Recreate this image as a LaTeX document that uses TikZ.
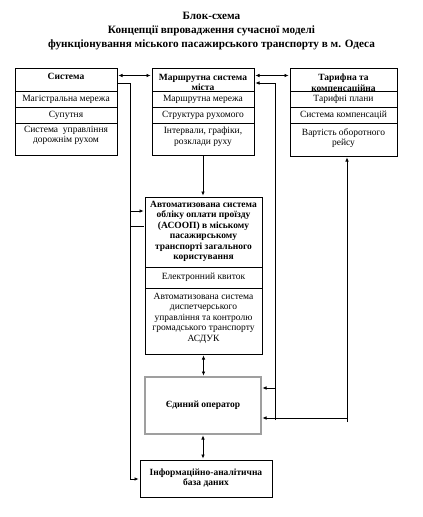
\documentclass[tikz,border=0pt]{standalone}
\usepackage{fontspec}
\setmainfont{Liberation Serif}
\usetikzlibrary{arrows.meta,positioning}

\tikzset{
  cell/.style={draw, outer sep=0pt, inner sep=0pt, line width=0.6pt},
  txt/.style={font=\fontsize{9.5}{10.4}\selectfont, align=center, inner sep=0pt},
  head/.style={txt, font=\bfseries\fontsize{9.5}{10.4}\selectfont},
  link/.style={line width=0.6pt, shorten >=1.5pt, shorten <=0pt},
  >={Latex[length=4pt,width=3.5pt]}
}

\begin{document}
\begin{tikzpicture}[x=1pt,y=-1pt]
    \useasboundingbox (0,0) rectangle (423,517);
    % Заголовок
    \node[align=center, font=\bfseries\fontsize{11.2}{14}\selectfont] (title) at (211.5,31)
        {Блок-схема\\Концепції впровадження сучасної моделі\\функціонування міського пасажирського транспорту в м. Одеса};
    % Система
    \node[cell, minimum width=102pt, minimum height=23pt, anchor=north west] (sysH) at (15,68.5) {};
    \node[cell, minimum width=102pt, minimum height=15.5pt, below=0pt of sysH] (sys1) {};
    \node[cell, minimum width=102pt, minimum height=16pt, below=0pt of sys1] (sys2) {};
    \node[cell, minimum width=102pt, minimum height=32pt, below=0pt of sys2] (sys3) {};
    \node[head, anchor=north] (sysHt) at ([yshift=-5pt]sysH.north) {Система};
    \node[txt] (sys1t) at (sys1) {Магістральна мережа};
    \node[txt] (sys2t) at (sys2) {Супутня};
    \node[txt, anchor=north] (sys3t) at ([yshift=-3pt]sys3.north) {Система\ \ управління\\дорожнім рухом};
    % Маршрутна система міста
    \node[cell, minimum width=102pt, minimum height=23pt, anchor=north west] (routeH) at (152,68.5) {};
    \node[cell, minimum width=102pt, minimum height=15.5pt, below=0pt of routeH] (route1) {};
    \node[cell, minimum width=102pt, minimum height=16pt, below=0pt of route1] (route2) {};
    \node[cell, minimum width=102pt, minimum height=32pt, below=0pt of route2] (route3) {};
    \begin{scope}
        \clip (routeH.north west) rectangle (routeH.south east);
        \node[head, anchor=north] (routeHt) at ([yshift=-5.5pt]routeH.north) {Маршрутна система\\міста};
    \end{scope}
    \node[txt] (route1t) at (route1) {Маршрутна мережа};
    \node[txt] (route2t) at (route2) {Структура рухомого};
    \node[txt, anchor=north] (route3t) at ([yshift=-4pt]route3.north) {Інтервали, графіки,\\розклади руху};
    % Тарифна та компенсаційна
    \node[cell, minimum width=107pt, minimum height=23pt, anchor=north west] (tarH) at (290,68.5) {};
    \node[cell, minimum width=107pt, minimum height=15.5pt, below=0pt of tarH] (tar1) {};
    \node[cell, minimum width=107pt, minimum height=16pt, below=0pt of tar1] (tar2) {};
    \node[cell, minimum width=107pt, minimum height=33pt, below=0pt of tar2] (tar3) {};
    \begin{scope}
        \clip (tarH.north west) rectangle (tarH.south east);
        \node[head, anchor=north] (tarHt) at ([yshift=-5.5pt]tarH.north) {Тарифна та\\компенсаційна};
    \end{scope}
    \node[txt] (tar1t) at (tar1) {Тарифні плани};
    \node[txt] (tar2t) at (tar2) {Система компенсацій};
    \node[txt, anchor=north] (tar3t) at ([yshift=-5pt]tar3.north) {Вартість оборотного\\рейсу};
    % АСООП
    \node[cell, minimum width=117pt, minimum height=70pt, anchor=north west] (asoop) at (145,197) {};
    \node[cell, minimum width=117pt, minimum height=21pt, below=0pt of asoop] (asoop1) {};
    \node[cell, minimum width=117pt, minimum height=66pt, below=0pt of asoop1] (asoop2) {};
    \node[head, anchor=north] (asoopt) at ([yshift=-4pt]asoop.north)
        {Автоматизована система\\обліку оплати проїзду\\(АСООП) в міському\\пасажирському\\транспорті загального\\користування};
    \node[txt] (asoop1t) at (asoop1) {Електронний квиток};
    \node[txt, anchor=north] (asoop2t) at ([yshift=-5pt]asoop2.north)
        {Автоматизована система\\диспетчерського\\управління та контролю\\громадського транспорту\\АСДУК};
    % Єдиний оператор
    \node[cell, draw=black!85, double=gray!75, double distance=1.6pt,
        minimum width=116pt, minimum height=57pt, anchor=north west] (oper) at (145,377)
        {\bfseries\fontsize{9.5}{10.4}\selectfont Єдиний оператор};
    % База даних
    \node[cell, minimum width=132pt, minimum height=37pt, anchor=north west] (base) at (140,460)
        {\bfseries\fontsize{9.5}{10.4}\selectfont\begin{tabular}{@{}c@{}}Інформаційно-аналітична\\база даних\end{tabular}};
    % Зв'язки
    \coordinate (lbus) at (130,479);
    \coordinate (j1) at (130,211);
    \coordinate (j2) at (130,226);
    \coordinate (rbus) at (275,420);
    \coordinate (r2) at (275,388);
    \coordinate (tbus) at (347,422);
    \coordinate (t2) at (347,418);
    \draw[link, <->, shorten <=1.5pt] ([yshift=4.5pt]sysH.east) -- ([yshift=4.5pt]routeH.east -| routeH.west);
    \draw[link, <->, shorten <=1.5pt] ([yshift=4.5pt]routeH.east) -- ([yshift=4.5pt]routeH.east -| tarH.west);
    \draw[link, ->] ([yshift=-3pt]sysH.east) -| (lbus) -- (lbus -| base.west);
    \draw[link, ->] (j1) -- (j1 -| asoop.west);
    \draw[link] (j2) -- (j2 -| asoop.west);
    \draw[link, ->] (route3.south) -- (route3.south |- asoop.north);
    \draw[link, ->] (rbus) |- ([yshift=-3pt]routeH.east);
    \draw[link, ->] (r2) -- (r2 -| oper.east);
    \draw[link, ->] (tbus) -- (tbus |- tar3.south);
    \draw[link, ->] (t2) -- (t2 -| oper.east);
    \draw[link, <->, shorten <=1.5pt] (asoop2.south) -- (asoop2.south |- oper.north);
    \draw[link, <->, shorten <=1.5pt] (oper.south) -- (oper.south |- base.north);
\end{tikzpicture}
\end{document}
